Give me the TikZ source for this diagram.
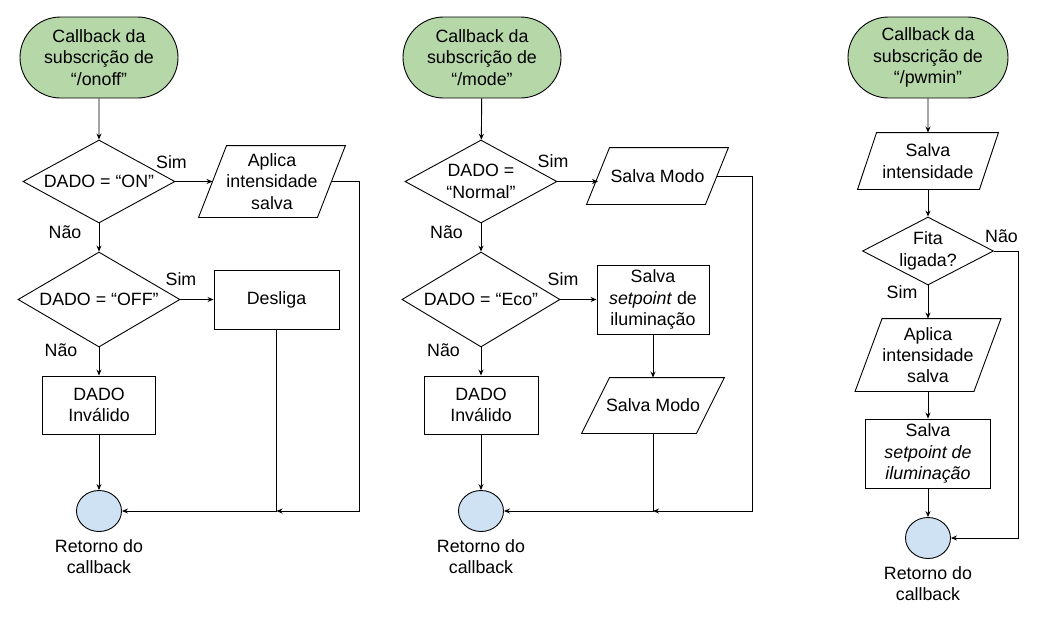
\documentclass[tikz,border=0pt]{standalone}
\usepackage{fontspec}
\setmainfont{Liberation Sans}
\usetikzlibrary{shapes.geometric, shapes.misc, arrows.meta}
\definecolor{verde}{HTML}{B6D7A8}
\definecolor{azul}{HTML}{CFE2F3}
\begin{document}
\begin{tikzpicture}[x=1pt, y=-1pt, line width=0.9pt,
    every node/.style={font=\fontsize{17.8}{21.3}\selectfont, inner sep=0pt, align=center},
    seta/.style={-{Stealth[length=6pt, width=5pt]}},
    term/.style={draw, rounded rectangle, fill=verde, minimum width=158pt, minimum height=81pt},
    decisao/.style={draw, diamond, aspect=1.9, inner sep=-2pt},
    dado/.style={rectangle},
    proc/.style={draw, rectangle},
    fim/.style={draw, ellipse, fill=azul, minimum width=45pt, minimum height=41pt}]
    \useasboundingbox (0,0) rectangle (1042,622);

    \node[term] (s1) at (99,57.5) {Callback da\\subscrição de\\“/onoff”};
    \node[decisao, minimum width=152pt, minimum height=83pt] (d1a) at (99,181.5) {DADO = “ON”};
    \node[dado, minimum width=118pt, minimum height=71pt] (p1) at (272,181.5) {Aplica\\intensidade\\salva};
    \node[decisao, minimum width=162pt, minimum height=95pt] (d1b) at (99,299.5) {DADO = “OFF”};
    \node[proc, minimum width=125pt, minimum height=59pt] (b1) at (276.5,299.5) {Desliga};
    \node[proc, minimum width=113pt, minimum height=58pt] (inv1) at (99,405) {DADO\\Inválido};
    \node[fim] (e1) at (99,511) {};
    \node[below=7pt] (r1) at (e1.south) {Retorno do\\callback};
    \node[anchor=base] (sim1a) at (171.5,168) {Sim};
    \node[anchor=base] (nao1a) at (65,238) {Não};
    \node[anchor=base] (sim1b) at (181,285) {Sim};
    \node[anchor=base] (nao1b) at (61,356) {Não};
    \coordinate (j1) at (276.5,511);
    \coordinate (c1) at (359,511);
    \draw[seta] (s1) -- (d1a);
    \draw[seta] (d1a) -- (p1);
    \draw[seta] (d1a) -- (d1b);
    \draw[seta] (d1b) -- (b1);
    \draw[seta] (d1b) -- (inv1);
    \draw[seta] (inv1) -- (e1);
    \draw[seta] (b1) -- (j1) -- (e1);
    \draw[seta] (p1.east) -| (c1) -- (j1);

    \node[term] (s2) at (482,57.5) {Callback da\\subscrição de\\“/mode”};
    \node[decisao, minimum width=152pt, minimum height=83pt] (d2a) at (481,181.5) {DADO =\\“Normal”};
    \node[dado, minimum width=118pt, minimum height=56pt] (p2) at (657.5,176) {Salva Modo};
    \node[decisao, minimum width=158pt, minimum height=95pt] (d2b) at (481,299.5) {DADO = “Eco”};
    \node[proc, minimum width=112pt, minimum height=69pt] (b2) at (653,299.5) {Salva\\\textit{setpoint} de\\iluminação};
    \node[dado, minimum width=114pt, minimum height=55pt] (p3) at (653,405.5) {Salva Modo};
    \node[proc, minimum width=114pt, minimum height=58pt] (inv2) at (481,405) {DADO\\Inválido};
    \node[fim] (e2) at (481,511) {};
    \node[below=7pt] (r2) at (e2.south) {Retorno do\\callback};
    \node[anchor=base] (sim2a) at (553,167) {Sim};
    \node[anchor=base] (nao2a) at (446.5,238) {Não};
    \node[anchor=base] (sim2b) at (563,285) {Sim};
    \node[anchor=base] (nao2b) at (443.5,356) {Não};
    \coordinate (j2) at (653,511);
    \coordinate (c2) at (752,511);
    \draw[seta] (s2) -- (d2a);
    \draw[seta] (d2a.east) -- (d2a.east -| p2.west);
    \draw[seta] (d2a) -- (d2b);
    \draw[seta] (d2b) -- (b2);
    \draw[seta] (b2) -- (p3);
    \draw[seta] (d2b) -- (inv2);
    \draw[seta] (inv2) -- (e2);
    \draw[seta] (p3) -- (j2) -- (e2);
    \draw[seta] (p2.east) -| (c2) -- (j2);

    \node[term, minimum width=160pt] (s3) at (928,57.5) {Callback da\\subscrição de\\“/pwmin”};
    \node[dado, minimum width=121pt, minimum height=56pt] (p4) at (928,161) {Salva\\intensidade};
    \node[decisao, minimum width=131pt, minimum height=68pt] (d3) at (928,251) {Fita\\ligada?};
    \node[dado, minimum width=118pt, minimum height=72pt] (p5) at (928,355) {Aplica\\intensidade\\salva};
    \node[proc, minimum width=125pt, minimum height=69pt] (b3) at (928,453.5) {Salva\\\textit{setpoint de}\\\textit{iluminação}};
    \node[fim] (e3) at (928,538) {};
    \node[below=7pt] (r3) at (e3.south) {Retorno do\\callback};
    \node[anchor=base] (nao3) at (1001.5,242) {Não};
    \node[anchor=base] (sim3) at (902,298) {Sim};
    \coordinate (c3) at (1018,538);
    \draw[seta] (s3) -- (p4);
    \draw[seta] (p4) -- (d3);
    \draw[seta] (d3) -- (p5);
    \draw[seta] (p5) -- (b3);
    \draw[seta] (b3) -- (e3);
    \draw[seta] (d3.east) -| (c3) -- (e3);

    \foreach \n/\s in {p1/14, p2/11.5, p3/14, p4/9.5, p5/13.5}
        \draw ([xshift=\s pt]\n.north west) -- ([xshift=\s pt]\n.north east)
            -- ([xshift=-\s pt]\n.south east) -- ([xshift=-\s pt]\n.south west) -- cycle;
\end{tikzpicture}
\end{document}
